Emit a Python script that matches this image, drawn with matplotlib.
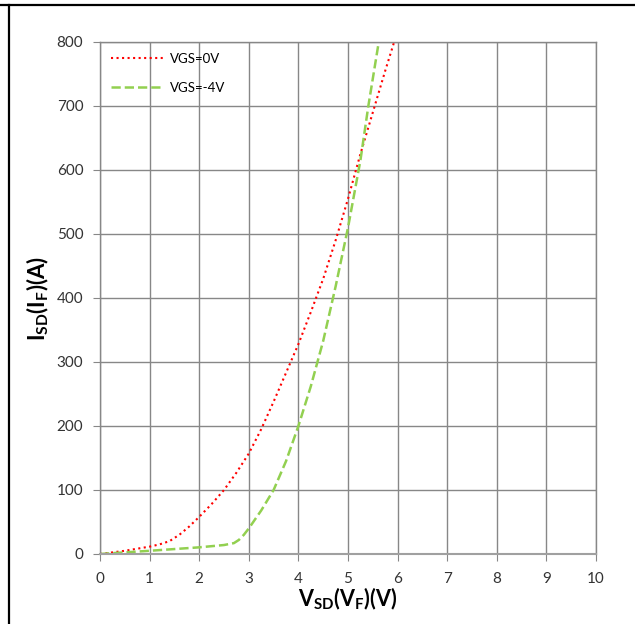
import numpy as np
import matplotlib.pyplot as plt
from matplotlib.lines import Line2D

plt.rcParams['font.family'] = ['Lato', 'DejaVu Sans']
plt.rcParams['mathtext.fontset'] = 'custom'
plt.rcParams['mathtext.rm'] = 'Lato'
plt.rcParams['mathtext.bf'] = 'Lato:bold'

# VGS = 0V (red dotted)
v_0v = [0, 0.5, 1.0, 1.2, 1.4, 1.6, 1.8, 2.0, 2.25, 2.5, 2.75, 3.0, 3.25, 3.5,
        3.75, 4.0, 4.25, 4.5, 4.75, 5.0, 5.25, 5.5, 5.75, 5.93]
i_0v = [0, 5, 11.5, 15, 20, 30, 43, 58, 78, 100, 127, 157, 195, 238,
        283, 328, 378, 430, 490, 555, 625, 690, 755, 800]

# VGS = -4V (green dashed)
v_4v = [0, 1.0, 2.0, 2.5, 2.7, 2.8, 2.9, 3.0, 3.25, 3.5, 3.75, 4.0, 4.25, 4.5,
        4.75, 5.0, 5.25, 5.41, 5.62]
i_4v = [0, 5, 10.4, 14, 17, 22, 30, 40, 68, 100, 145, 200, 262, 333,
        418, 510, 615, 700, 800]

fig = plt.figure(figsize=(6.35, 6.24), dpi=100)
ax = fig.add_axes([0.1575, 0.1122, 0.7811, 0.8205])

ax.plot(v_0v, i_0v, color='#FF0000', linestyle=':', linewidth=1.5, label='VGS=0V')
ax.plot(v_4v, i_4v, color='#92D050', linestyle='--', linewidth=1.8, label='VGS=-4V')

ax.set_xlim(0, 10)
ax.set_ylim(0, 800)
ax.set_xticks(np.arange(0, 11, 1))
ax.set_yticks(np.arange(0, 801, 100))
ax.grid(True, color='#878787', linewidth=1.0)
ax.set_axisbelow(True)
for s in ax.spines.values():
    s.set_color('#878787')
    s.set_linewidth(1.0)
ax.spines['bottom'].set_color('#a0a0a0')
ax.spines['bottom'].set_linewidth(1.5)
ax.tick_params(length=5, color='#878787', labelsize=11, labelcolor='#333333')
ax.tick_params(axis='x', pad=8)
ax.tick_params(axis='y', pad=7)

ax.set_xlabel(r'$\mathbf{V_{SD}(V_F)(V)}$', fontsize=15.5, labelpad=0)
ax.set_ylabel(r'$\mathbf{I_{SD}(I_F)(A)}$', fontsize=16, labelpad=4)

ax.legend(loc='upper left', frameon=False, fontsize=9.5, handlelength=4.0,
          labelspacing=1.3, borderaxespad=0.4, handletextpad=0.5)

# page border lines
fig.add_artist(Line2D([0, 1], [1 - 5 / 624, 1 - 5 / 624], color='black', linewidth=1.6,
                      transform=fig.transFigure))
fig.add_artist(Line2D([8.5 / 635, 8.5 / 635], [0, 1 - 5 / 624], color='black', linewidth=1.6,
                      transform=fig.transFigure))

fig.savefig('out.png', dpi=100)
